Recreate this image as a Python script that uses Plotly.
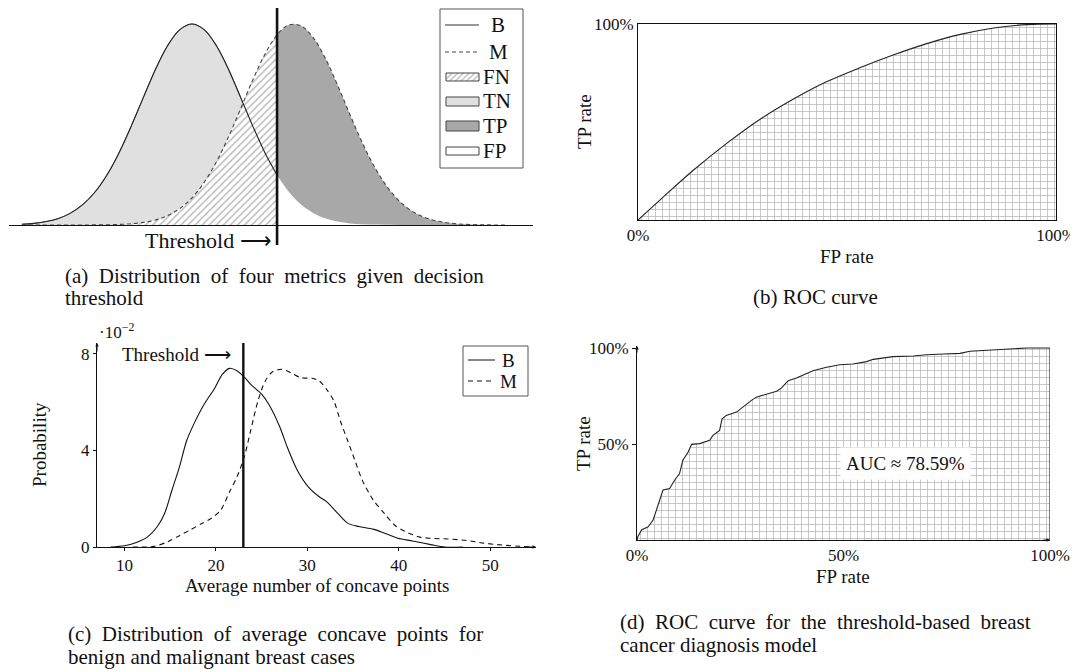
import plotly.graph_objects as go

W, H = 1078, 672          # target picture size
OFF = 8                   # page body margin of the browser
FW, FH = W - OFF, H - OFF  # figure size so that the figure ends at the window edge
FONT = "Liberation Serif"

# ---------------- data ----------------
# (a) idealised class distributions (height relative to peak)
X_A = [0.5, 0.75, 1.0, 1.25, 1.5, 1.75, 2.0, 2.25, 2.5, 2.75, 3.0, 3.25, 3.5, 3.75,
       4.0, 4.25, 4.5, 4.75, 5.0, 5.25, 5.5, 5.75, 6.0, 6.25, 6.5, 6.75, 7.0, 7.25,
       7.5, 7.75, 8.0, 8.25, 8.5, 8.75, 9.0, 9.25, 9.5, 9.75, 10.0, 10.25, 10.5]
B_A = [0.004, 0.008, 0.017, 0.032, 0.059, 0.101, 0.163, 0.249, 0.360, 0.492, 0.635,
       0.775, 0.893, 0.972, 1.000, 0.972, 0.893, 0.775, 0.635, 0.492, 0.360, 0.249,
       0.163, 0.101, 0.059, 0.032, 0.017, 0.008, 0.004, 0.002, 0.001, 0, 0, 0, 0, 0,
       0, 0, 0, 0, 0]
M_A = [0, 0, 0, 0, 0, 0, 0.0005, 0.001, 0.003, 0.006, 0.013, 0.025, 0.047, 0.082,
       0.135, 0.212, 0.313, 0.438, 0.578, 0.721, 0.849, 0.946, 0.996, 0.990, 0.930,
       0.826, 0.693, 0.549, 0.411, 0.291, 0.195, 0.123, 0.073, 0.041, 0.022, 0.011,
       0.005, 0.002, 0.001, 0, 0]
THRESH_A = 5.75

# (b) smooth ROC curve
FPR_B = [0, 0.053, 0.133, 0.213, 0.293, 0.372, 0.452, 0.532, 0.612, 0.691, 0.771, 0.851, 0.931, 1.0]
TPR_B = [0, 0.103, 0.255, 0.392, 0.515, 0.617, 0.706, 0.778, 0.843, 0.900, 0.947, 0.980, 0.997, 1.0]

# (c) distributions of average concave points (probability, x1e-2)
B_C_X = [8.5, 10, 11.3, 12.5, 13.6, 14.4, 15.2, 16.0, 16.8, 17.6, 18.7, 19.9, 20.7, 21.5,
         22.3, 23.1, 23.8, 25.0, 25.8, 27.0, 27.8, 28.9, 30.1, 31.3, 32.1, 33.3, 34.4,
         35.6, 37.2, 38.4, 39.9, 41.5, 43.5, 45.0, 47]
B_C_Y = [0, 0.05, 0.19, 0.41, 0.85, 1.4, 2.36, 3.3, 4.4, 5.1, 5.9, 6.6, 7.15, 7.4, 7.3,
         7.04, 6.74, 6.33, 5.9, 4.96, 4.14, 3.18, 2.49, 2.08, 1.88, 1.40, 0.99, 0.85,
         0.74, 0.58, 0.36, 0.25, 0.10, 0.0, 0.0]
M_C_X = [10.9, 13.3, 14.8, 16.0, 17.2, 18.4, 19.5, 20.5, 21.5, 22.3, 23.1, 23.8, 24.6,
         25.4, 26.2, 27.2, 28.2, 29.3, 30.5, 31.3, 32.1, 32.9, 33.6, 34.4, 35.2, 36.0,
         37.2, 38.4, 39.5, 40.7, 42.3, 43.5, 45.4, 47.4, 49.3, 51.3, 53.3, 54.4]
M_C_Y = [0, 0.03, 0.23, 0.47, 0.71, 0.96, 1.19, 1.51, 2.29, 2.9, 3.73, 4.82, 6.05, 6.88,
         7.26, 7.36, 7.22, 7.01, 6.99, 6.88, 6.53, 6.05, 5.23, 4.41, 3.59, 2.77, 1.95,
         1.40, 0.92, 0.64, 0.41, 0.36, 0.33, 0.27, 0.16, 0.08, 0.03, 0]
THRESH_C = 23
C_XTICKS = [10, 20, 30, 40, 50]
C_YTICKS = [0, 4, 8]

# (d) empirical ROC curve
FPR_D = [0, 0.002, 0.011, 0.027, 0.039, 0.047, 0.055, 0.063, 0.079, 0.091, 0.103, 0.111,
         0.124, 0.132, 0.152, 0.176, 0.184, 0.200, 0.206, 0.216, 0.241, 0.261, 0.277,
         0.289, 0.313, 0.338, 0.350, 0.366, 0.386, 0.406, 0.426, 0.459, 0.491, 0.523,
         0.556, 0.572, 0.604, 0.620, 0.669, 0.701, 0.742, 0.782, 0.806, 0.863, 0.903,
         0.943, 1.0]
TPR_D = [0, 0.017, 0.052, 0.069, 0.104, 0.156, 0.216, 0.260, 0.268, 0.311, 0.346, 0.415,
         0.458, 0.498, 0.502, 0.519, 0.545, 0.571, 0.631, 0.649, 0.666, 0.701, 0.727,
         0.744, 0.761, 0.775, 0.792, 0.830, 0.844, 0.865, 0.882, 0.900, 0.913, 0.917,
         0.929, 0.941, 0.948, 0.955, 0.958, 0.965, 0.969, 0.972, 0.983, 0.990, 0.998,
         1.0, 1.0]
AUC_TEXT = "AUC ≈ 78.59%"
D_TICKS = [0, 0.5, 1]
D_TICKTEXT = ["0%", "50%", "100%"]


def PX(x):
    """window pixel x -> paper fraction"""
    return min(1.0, max(0.0, (x - OFF) / FW))


def PY(y):
    """window pixel y (from top) -> paper fraction"""
    return min(1.0, max(0.0, 1 - (y - OFF) / FH))


def just(s, extra=1):
    return (" " + "\u00a0" * extra).join(s.split(" "))


fig = go.Figure()
NOHOVER = dict(hoverinfo="skip")
HATCH = dict(shape="/", fgcolor="#7a7a7a", bgcolor="white", size=5, solidity=0.3)
GRID = dict(shape="+", fgcolor="#777777", bgcolor="white", size=7, solidity=0.22)

# ---------------- (a) ----------------
left = [(x, b, m) for x, b, m in zip(X_A, B_A, M_A) if x <= THRESH_A]
right = [(x, b, m) for x, b, m in zip(X_A, B_A, M_A) if x >= THRESH_A]
xl = [p[0] for p in left]; bl = [p[1] for p in left]; ml = [p[2] for p in left]
xr = [p[0] for p in right]; br = [p[1] for p in right]; mr = [p[2] for p in right]

fig.add_trace(go.Scatter(x=xl, y=bl, mode="lines", fill="tozeroy", fillcolor="#e0e0e0",
                         line=dict(color="#555", width=0.8, shape="spline"),
                         xaxis="x", yaxis="y", **NOHOVER))
fig.add_trace(go.Scatter(x=xl, y=ml, mode="lines", fill="tozeroy", fillcolor="white",
                         fillpattern=HATCH, line=dict(width=0, shape="spline"),
                         xaxis="x", yaxis="y", **NOHOVER))
fig.add_trace(go.Scatter(x=xl, y=bl, mode="lines", line=dict(color="#222", width=1.1, shape="spline"),
                         xaxis="x", yaxis="y", **NOHOVER))
fig.add_trace(go.Scatter(x=xr, y=mr, mode="lines", fill="tozeroy", fillcolor="#a8a8a8",
                         line=dict(width=0, shape="spline"), xaxis="x", yaxis="y", **NOHOVER))
fig.add_trace(go.Scatter(x=xr, y=br, mode="lines", fill="tozeroy", fillcolor="white",
                         line=dict(width=0, shape="spline"), xaxis="x", yaxis="y", **NOHOVER))
fig.add_trace(go.Scatter(x=X_A, y=M_A, mode="lines",
                         line=dict(color="#444", width=1.1, dash="4px,3px", shape="spline"),
                         xaxis="x", yaxis="y", **NOHOVER))

# ---------------- (b) ----------------
fig.add_trace(go.Scatter(x=FPR_B, y=TPR_B, mode="lines", fill="tozeroy", fillcolor="white",
                         fillpattern=GRID, line=dict(color="#222", width=1.1, shape="spline"),
                         xaxis="x2", yaxis="y2", **NOHOVER))

# ---------------- (c) ----------------
fig.add_trace(go.Scatter(x=B_C_X, y=B_C_Y, mode="lines",
                         line=dict(color="#111", width=1.1, shape="spline", smoothing=0.8),
                         xaxis="x3", yaxis="y3", **NOHOVER))
fig.add_trace(go.Scatter(x=M_C_X, y=M_C_Y, mode="lines",
                         line=dict(color="#111", width=1.1, dash="5px,4px", shape="spline", smoothing=0.8),
                         xaxis="x3", yaxis="y3", **NOHOVER))

# ---------------- (d) ----------------
fig.add_trace(go.Scatter(x=FPR_D, y=TPR_D, mode="lines", fill="tozeroy", fillcolor="white",
                         fillpattern=GRID, line=dict(color="#222", width=1.1),
                         xaxis="x4", yaxis="y4", **NOHOVER))
fig.add_trace(go.Scatter(x=[FPR_D[-1], FPR_D[-1]], y=[0, TPR_D[-1]], mode="lines",
                         line=dict(color="#222", width=1.1), xaxis="x4", yaxis="y4", **NOHOVER))

# ---------------- legend (a) hatched swatch (pixel overlay) ----------------
fig.add_trace(go.Scatter(x=[446, 479, 479, 446, 446], y=[73, 73, 81, 81, 73], mode="lines",
                         fill="toself", fillcolor="white",
                         fillpattern=dict(shape="/", fgcolor="#7a7a7a", bgcolor="white",
                                          size=4, solidity=0.35),
                         line=dict(color="#444", width=1), xaxis="x5", yaxis="y5", **NOHOVER))

A_YTOP = (225 - OFF) / 201.0   # (a) y range so that height 1 sits 201 px above the baseline
axis_common = dict(showgrid=False, zeroline=False, automargin=False)
fig.update_layout(
    width=FW, height=FH, margin=dict(l=0, r=0, t=0, b=0, pad=0, autoexpand=False),
    paper_bgcolor="white", plot_bgcolor="rgba(0,0,0,0)",
    showlegend=False,
    font=dict(family=FONT, size=19, color="#111"),
    xaxis=dict(domain=[PX(9), PX(533)], range=[0.235, 11.016], showline=True, linecolor="#111",
               linewidth=1.3, showticklabels=False, ticks="", anchor="y", **axis_common),
    yaxis=dict(domain=[PY(225), 1.0], range=[0, A_YTOP], visible=False, anchor="x", **axis_common),
    xaxis2=dict(domain=[PX(638), PX(1056)], range=[0, 1], showline=True, mirror=True,
                linecolor="#111", linewidth=1, tickvals=[0, 1], ticktext=["0%", "100%"],
                ticks="", tickfont=dict(size=17), anchor="y2", **axis_common),
    yaxis2=dict(domain=[PY(220), PY(24)], range=[0, 1], showline=True, mirror=True,
                linecolor="#111", linewidth=1, tickvals=[1], ticktext=["100%"],
                ticks="", tickfont=dict(size=17), anchor="x2", **axis_common),
    xaxis3=dict(domain=[PX(97), PX(536)], range=[7, 55], showline=True, linecolor="#111",
                linewidth=1, tickvals=C_XTICKS, ticks="outside", ticklen=3, tickcolor="#111",
                tickfont=dict(size=17), anchor="y3", **axis_common),
    yaxis3=dict(domain=[PY(547), PY(343)], range=[0, 8.45], showline=True, linecolor="#111",
                linewidth=1, tickvals=C_YTICKS, ticks="outside", ticklen=3, tickcolor="#111",
                tickfont=dict(size=17), anchor="x3", **axis_common),
    xaxis4=dict(domain=[PX(637), PX(1050)], range=[0, 1], showline=True, linecolor="#111",
                linewidth=1, tickvals=D_TICKS, ticktext=D_TICKTEXT, ticks="",
                tickfont=dict(size=17), anchor="y4", **axis_common),
    yaxis4=dict(domain=[PY(540), PY(346)], range=[0, 1.0104], showline=True, linecolor="#111",
                linewidth=1, tickvals=D_TICKS[1:], ticktext=D_TICKTEXT[1:], ticks="outside",
                ticklen=4, tickcolor="#111", tickfont=dict(size=17), anchor="x4", **axis_common),
    xaxis5=dict(domain=[0, 1], range=[OFF, W], visible=False, anchor="y5", **axis_common),
    yaxis5=dict(domain=[0, 1], range=[H, OFF], visible=False, anchor="x5", **axis_common),
)

shapes = []
# threshold lines
shapes.append(dict(type="line", xref="x", yref="paper", x0=THRESH_A, x1=THRESH_A,
                   y0=PY(245), y1=PY(8), line=dict(color="#111", width=2.6), layer="above"))
shapes.append(dict(type="line", xref="x3", yref="y3", x0=THRESH_C, x1=THRESH_C,
                   y0=0, y1=8.45, line=dict(color="#111", width=2.4), layer="above"))
# legend (a)
shapes.append(dict(type="rect", xref="x5", yref="y5", x0=440, x1=523, y0=9, y1=168,
                   line=dict(color="#555", width=1), fillcolor="white", layer="below"))
shapes.append(dict(type="line", xref="x5", yref="y5", x0=445, x1=479, y0=25, y1=25,
                   line=dict(color="#333", width=1)))
shapes.append(dict(type="line", xref="x5", yref="y5", x0=445, x1=479, y0=52, y1=52,
                   line=dict(color="#444", width=1, dash="4px,3px")))
for (y0, y1, col) in [(97, 106, "#e0e0e0"), (121, 131, "#a8a8a8"), (147, 155, "white")]:
    shapes.append(dict(type="rect", xref="x5", yref="y5", x0=446, x1=479, y0=y0, y1=y1,
                       line=dict(color="#444", width=1), fillcolor=col))
# legend (c)
shapes.append(dict(type="rect", xref="x5", yref="y5", x0=463, x1=528, y0=346, y1=396,
                   line=dict(color="#555", width=1), fillcolor="white", layer="below"))
shapes.append(dict(type="line", xref="x5", yref="y5", x0=468, x1=495, y0=360, y1=360,
                   line=dict(color="#111", width=1)))
shapes.append(dict(type="line", xref="x5", yref="y5", x0=468, x1=495, y0=381, y1=381,
                   line=dict(color="#111", width=1, dash="5px,4px")))
fig.update_layout(shapes=shapes)

ann = []


def txt(text, x, y, size=19, xanchor="center", yanchor="middle", angle=0, **kw):
    ann.append(dict(text=text, x=PX(x), y=PY(y), xref="paper", yref="paper", showarrow=False,
                    xanchor=xanchor, yanchor=yanchor, textangle=angle,
                    font=dict(family=FONT, size=size, color="#111"), **kw))


# (a)
txt("Threshold ⟶", 274, 240, size=22, xanchor="right")
for lab, y in [("B", 25), ("M", 52)]:
    txt(lab, 498, y, size=21)
for lab, y in [("FN", 77), ("TN", 101), ("TP", 126), ("FP", 151)]:
    txt(lab, 481, y, size=21, xanchor="left")
txt(just("(a) Distribution of four metrics given decision"), 63, 276, size=21, xanchor="left")
txt("threshold", 63, 298, size=21, xanchor="left")
# (b)
txt("FP rate", 847, 256, size=19)
txt("TP rate", 584, 122, size=19, angle=-90)
txt("(b) ROC curve", 815, 297, size=21)
# (c)
txt("Threshold ⟶", 233, 354, size=19, xanchor="right")
txt("·10<sup>−2</sup>", 97, 331, size=17, xanchor="left")
txt("B", 508, 360, size=19)
txt("M", 508, 381, size=19)
txt("Probability", 39, 445, size=19, angle=-90)
txt("Average number of concave points", 317, 585, size=19)
txt(just("(c) Distribution of average concave points for"), 66, 634, size=21, xanchor="left")
txt("benign and malignant breast cases", 66, 657, size=21, xanchor="left")
# (d)
txt("FP rate", 843, 576, size=19)
txt("TP rate", 584, 444, size=19, angle=-90)
txt(just("(d) ROC curve for the threshold-based breast"), 618, 622, size=21, xanchor="left")
txt("cancer diagnosis model", 618, 645, size=21, xanchor="left")

# AUC label
ann.append(dict(text=AUC_TEXT, x=0.649, y=0.396, xref="x4", yref="y4", showarrow=False,
                bgcolor="white", borderpad=5, font=dict(family=FONT, size=19, color="#111")))

# axis arrows
for (x, y, xr_, yr_, ax, ay) in [(55, 0, "x3", "y3", -10, 0), (7, 8.45, "x3", "y3", 0, 10),
                                 (1, 0, "x4", "y4", -8, 0), (0, 1.0104, "x4", "y4", 0, 8)]:
    ann.append(dict(x=x, y=y, xref=xr_, yref=yr_, ax=ax, ay=ay, axref="pixel", ayref="pixel",
                    showarrow=True, arrowhead=2, arrowsize=0.7, arrowwidth=1, arrowcolor="#111",
                    text=""))

fig.update_layout(annotations=ann)
fig.write_html("out.html")
